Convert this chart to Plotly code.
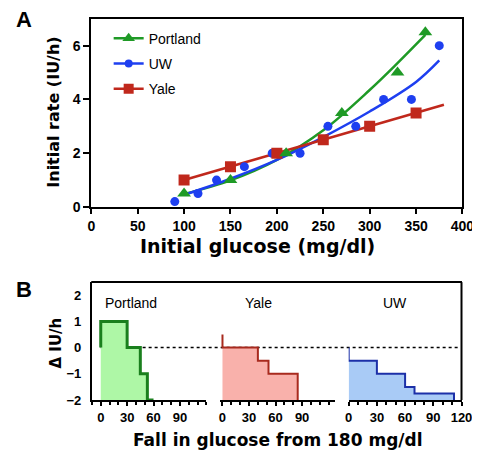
import plotly.graph_objects as go

# ---------------- Panel A data ----------------
portland_x = [100, 150, 210, 270, 330, 360]
portland_y = [0.5, 1.0, 2.0, 3.5, 5.0, 6.5]
uw_x = [90, 115, 135, 165, 195, 225, 255, 285, 315, 345, 375]
uw_y = [0.2, 0.5, 1.0, 1.5, 2.0, 2.0, 3.0, 3.0, 4.0, 4.0, 6.0]
yale_x = [100, 150, 200, 250, 300, 350]
yale_y = [1.0, 1.5, 2.0, 2.5, 3.0, 3.5]

# fitted curves
portland_fit_x = [100, 150, 200, 250, 300, 330, 360]
portland_fit_y = [0.48, 0.99, 1.75, 2.85, 4.35, 5.35, 6.4]
uw_fit_x = [100, 150, 200, 250, 300, 350, 375]
uw_fit_y = [0.45, 1.05, 1.75, 2.6, 3.55, 4.65, 5.45]
yale_fit_x = [100, 380]
yale_fit_y = [1.0, 3.8]

# ---------------- Panel B data ----------------
b_portland_x = [0, 0, 30, 45, 53, 60]
b_portland_y = [0, 1, 0, -1, -2, -2]
b_yale_x = [0, 0, 40, 52, 85]
b_yale_y = [0.5, 0, -0.5, -1, -2]
b_uw_x = [0, 0, 30, 60, 70, 112]
b_uw_y = [0, -0.5, -1, -1.5, -1.75, -2]
B_FLOOR = -2

W, H = 480, 456
FONT = "Liberation Sans, Arial, sans-serif"
TFONT = "DejaVu Sans, Verdana, sans-serif"

GREEN = "#1f9a26"
BLUE = "#1e3ff0"
RED = "#c0281c"

def px(x):
    return x / W

def py(y):
    return 1 - y / H

fig = go.Figure()

# ---- Panel A ----
for fx, fy, c in [(portland_fit_x, portland_fit_y, GREEN),
                  (uw_fit_x, uw_fit_y, BLUE),
                  (yale_fit_x, yale_fit_y, RED)]:
    fig.add_trace(go.Scatter(x=fx, y=fy, mode="lines", line=dict(color=c, width=2.5, shape="spline"),
                             showlegend=False, hoverinfo="skip", xaxis="x", yaxis="y"))

fig.add_trace(go.Scatter(x=uw_x, y=uw_y, mode="markers",
                         marker=dict(symbol="circle", size=9, color=BLUE), showlegend=False))
fig.add_trace(go.Scatter(x=yale_x, y=yale_y, mode="markers",
                         marker=dict(symbol="square", size=11, color=RED), showlegend=False))
fig.add_trace(go.Scatter(x=portland_x, y=portland_y, mode="markers",
                         marker=dict(symbol="triangle-up", size=12, color=GREEN), showlegend=False))

# legend-only entries
for name, sym, c, sz in [("Portland", "triangle-up", GREEN, 11),
                         ("UW", "circle", BLUE, 8),
                         ("Yale", "square", RED, 10)]:
    fig.add_trace(go.Scatter(x=[None], y=[None], mode="lines+markers", name=name,
                             legendgroup=name,
                             line=dict(color=c, width=2.5),
                             marker=dict(symbol=sym, size=sz, color=c)))

# ---- Panel B ----
def step_pair(xs, ys, line_color, fill_color, lw, xa):
    fig.add_trace(go.Scatter(x=[xs[0]] + xs, y=[B_FLOOR] + ys, mode="lines",
                             line=dict(width=0, shape="hv"), fill="toself",
                             fillcolor=fill_color, showlegend=False, hoverinfo="skip",
                             xaxis=xa, yaxis="y2"))
    fig.add_trace(go.Scatter(x=xs, y=ys, mode="lines",
                             line=dict(color=line_color, width=lw, shape="hv"),
                             showlegend=False, hoverinfo="skip", xaxis=xa, yaxis="y2"))

step_pair(b_portland_x, b_portland_y, "#1a7f1d", "#aef7a6", 3, "x2")
step_pair(b_yale_x, b_yale_y, "#a82a1e", "#f9b1ab", 2, "x3")
step_pair(b_uw_x, b_uw_y, "#1c30a8", "#a9cbf6", 2, "x4")

tickfont = dict(family=FONT, size=14, color="black", weight="bold")
tickfontB = dict(family=FONT, size=13, color="black", weight="bold")

# domains (pixel -> paper)
A_x = [px(82), px(466)]
A_y = [py(202.5), py(11)]
B_y = [py(399), py(279)]
P_x = [px(82.7), px(201)]
Y_x = [px(215), px(334)]
U_x = [px(348.3), px(465)]

minor = dict(dtick=10, tick0=0, ticks="outside", ticklen=3, tickwidth=1.5, tickcolor="black")

fig.update_layout(
    width=W, height=H,
    margin=dict(l=0, r=0, t=0, b=0),
    paper_bgcolor="white", plot_bgcolor="white",
    font=dict(family=FONT, color="black"),
    showlegend=True,
    legend=dict(x=px(100), y=py(15), xanchor="left", yanchor="top",
                font=dict(family=FONT, size=14, color="black"),
                bgcolor="rgba(0,0,0,0)", tracegroupgap=4, itemwidth=30),
    xaxis=dict(domain=A_x, anchor="y", range=[0, 400], tickvals=[0, 50, 100, 150, 200, 250, 300, 350, 400],
               showline=True, linecolor="black", linewidth=2, mirror=True,
               ticks="outside", ticklen=5, tickwidth=2, tickcolor="black",
               showgrid=False, zeroline=False, tickfont=tickfont),
    yaxis=dict(domain=A_y, anchor="x", range=[0, 7], tickvals=[0, 2, 4, 6],
               showline=True, linecolor="black", linewidth=2, mirror=True,
               ticks="outside", ticklen=6, tickwidth=2, tickcolor="black",
               showgrid=False, zeroline=False, tickfont=tickfont),
    xaxis2=dict(domain=P_x, anchor="y2", range=[-10, 120], tickvals=[0, 30, 60, 90],
                showline=True, linecolor="black", linewidth=2,
                ticks="outside", ticklen=4, tickwidth=1.5, tickcolor="black", minor=minor,
                showgrid=False, zeroline=False, tickfont=tickfontB),
    xaxis3=dict(domain=Y_x, anchor="y2", range=[-3, 127], tickvals=[0, 30, 60, 90],
                showline=True, linecolor="black", linewidth=2,
                ticks="outside", ticklen=4, tickwidth=1.5, tickcolor="black", minor=minor,
                showgrid=False, zeroline=False, tickfont=tickfontB),
    xaxis4=dict(domain=U_x, anchor="y2", range=[0, 120], tickvals=[0, 30, 60, 90, 120],
                showline=True, linecolor="black", linewidth=2,
                ticks="outside", ticklen=4, tickwidth=1.5, tickcolor="black", minor=minor,
                showgrid=False, zeroline=False, tickfont=tickfontB),
    yaxis2=dict(domain=B_y, anchor="x2", range=[-2, 2.5], tickvals=[-2, -1, 0, 1, 2],
                showline=True, linecolor="black", linewidth=2,
                ticks="", ticklabelstandoff=6,
                showgrid=False, zeroline=False, tickfont=tickfontB),
)

# Panel B frame (top + right) and dotted zero line
fig.add_shape(type="line", xref="paper", yref="paper", x0=px(82), x1=px(465.5), y0=B_y[1], y1=B_y[1],
              line=dict(color="black", width=2))
fig.add_shape(type="line", xref="paper", yref="paper", x0=px(465), x1=px(465), y0=B_y[0], y1=B_y[1],
              line=dict(color="black", width=2))
fig.add_shape(type="line", xref="paper", yref="y2", x0=px(91.7), x1=px(464), y0=0, y1=0,
              line=dict(color="black", width=1.5, dash="dot"), layer="below")

# annotations
ann = []
def text(x, y, t, size, bold=True, angle=0, family=FONT):
    ann.append(dict(x=px(x), y=py(y), xref="paper", yref="paper", text=t, showarrow=False,
                    textangle=angle, xanchor="center", yanchor="middle",
                    font=dict(family=family, size=size, color="black", weight="bold" if bold else "normal")))

text(12, 12, "A", 22)
text(12, 287, "B", 22)
text(254, 242, "Initial glucose (mg/dl)", 19, family=TFONT)
text(43, 106, "Initial rate (IU/h)", 16, angle=-90, family=TFONT)
text(275, 440, "Fall in glucose from 180 mg/dl", 17, family=TFONT)
text(46, 341, "Δ IU/h", 15, angle=-90, family=TFONT)
text(123, 300, "Portland", 14, bold=False)
text(255, 300, "Yale", 14, bold=False)
text(396, 300, "UW", 14, bold=False)
fig.update_layout(annotations=ann)

fig.write_html("out.html")
